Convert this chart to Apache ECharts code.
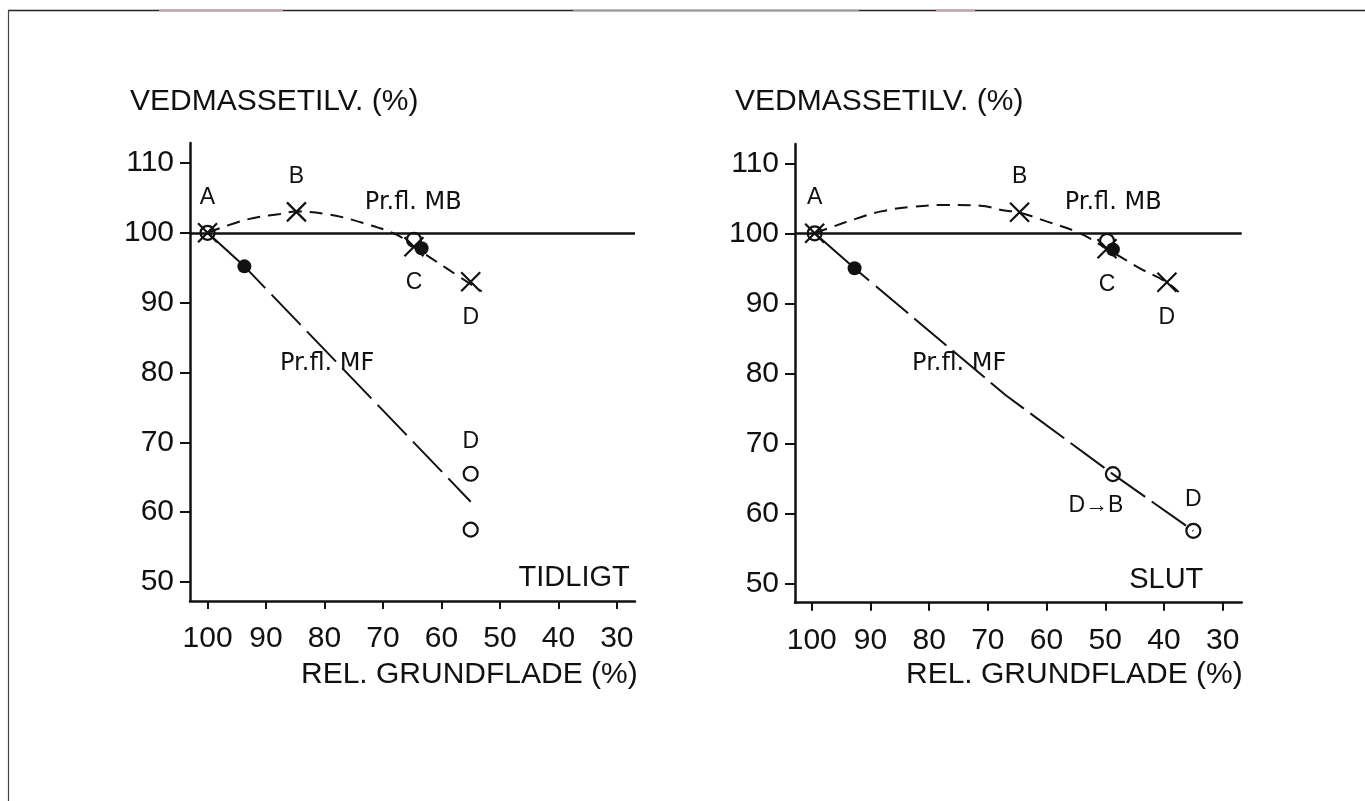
<!DOCTYPE html>
<html>
<head>
<meta charset="utf-8">
<script src="https://cdn.jsdelivr.net/npm/echarts@6/dist/echarts.min.js"></script>
<style>
html,body{margin:0;padding:0;background:#fff;}
#chart{width:1365px;height:801px;}
</style>
</head>
<body>
<div id="chart"></div>
<script>
// ---- data ----
const xTicks = [100, 90, 80, 70, 60, 50, 40, 30];
const yTicks = [50, 60, 70, 80, 90, 100, 110];
const refValue = 100;

// TIDLIGT (left panel)
const crossL = [[100, 100], [84.8, 103], [64.7, 98], [55, 93]];
const crossNamesL = ['A', 'B', 'C', 'D'];
const openL = [[100, 100], [64.7, 99], [55, 65.5], [55, 57.5]];
const openNamesL = ['', '', 'D', ''];
const dotL = [[93.7, 95.2], [63.4, 97.8]];
const mbCurveL = [[100, 100], [93.3, 101.9], [87.6, 102.7], [84.8, 103.05], [79.1, 102.6], [73.4, 101.4], [67.6, 99.7], [64.7, 98], [59.1, 94.9], [53.1, 91.6]];
const mfLineL = [[100, 100], [93.7, 95.2], [55, 61.5]];

// SLUT (right panel)
const crossR = [[99.5, 100], [64.6, 103], [49.7, 97.8], [39.5, 93]];
const crossNamesR = ['A', 'B', 'C', 'D'];
const openR = [[99.5, 100], [49.7, 98.9], [48.7, 65.6], [35, 57.5]];
const openNamesR = ['', '', 'D\u2192B', 'D'];
const dotR = [[92.7, 95], [48.7, 97.7]];
const mbCurveR = [[99.5, 100], [96.9, 100.8], [92.4, 102.1], [88.4, 103.1], [82.7, 103.8], [77, 104.05], [71.3, 103.95], [67.4, 103.3], [64.6, 102.95], [60, 101.7], [54.3, 100], [49.7, 97.8], [44.1, 95], [39.5, 93], [37.5, 91.6]];
const mfLineR = [[99.5, 100], [92.7, 95], [67, 76.9], [48.7, 65.6], [35, 57.5]];

const panelTexts = ['TIDLIGT', 'SLUT'];
const yName = 'VEDMASSETILV. (%)';
const xName = 'REL. GRUNDFLADE (%)';
const mbName = 'Pr.fl. MB';
const mfName = 'Pr.fl. MF';

// ---- styling / building ----
const INK = '#111';
const FONT = "'Liberation Sans', Arial, sans-serif";
const FONT2 = "'DejaVu Sans', sans-serif";
const crossPath = 'path://M0,0 L10,10 M10,0 L0,10';

function labelFor(name) {
  if (!name) return { show: false };
  const base = { show: true, formatter: name, color: INK, fontFamily: FONT, fontSize: 23 };
  if (name === 'A' || name === 'B') return Object.assign(base, { position: 'top', distance: 12 });
  return Object.assign(base, { position: 'bottom', distance: 12 });
}
function labelForOpen(name) {
  if (!name) return { show: false };
  const base = { show: true, formatter: name, color: INK, fontFamily: FONT, fontSize: 23 };
  if (name === 'D') return Object.assign(base, { position: 'top', distance: 12 });
  return Object.assign(base, { position: 'bottom', distance: 12, offset: [-17, 0] });
}

function xAxisDef(gi, min, max) {
  return {
    gridIndex: gi, type: 'value', inverse: true, min: min, max: max,
    axisLine: { onZero: false, lineStyle: { color: INK, width: 2.5 } },
    axisTick: { show: true, customValues: xTicks, length: 8, lineStyle: { color: INK, width: 2 } },
    axisLabel: { customValues: xTicks, margin: 23, fontSize: 30, color: INK, fontFamily: FONT },
    splitLine: { show: false }
  };
}
function yAxisDef(gi, min, max) {
  return {
    gridIndex: gi, type: 'value', min: min, max: max,
    axisLine: { onZero: false, lineStyle: { color: INK, width: 2.5 } },
    axisTick: { show: true, customValues: yTicks, length: 10, lineStyle: { color: INK, width: 2 } },
    axisLabel: { customValues: yTicks, margin: 16, fontSize: 30, color: INK, fontFamily: FONT },
    splitLine: { show: false }
  };
}

function panelSeries(gi, mb, mf, cross, crossNames, open, openNames, dots, mfDash, annots) {
  return [
    {
      type: 'line', xAxisIndex: gi, yAxisIndex: gi, data: mb, smooth: 0.4, showSymbol: false, z: 2,
      lineStyle: { color: INK, width: 2, type: [13, 8] },
      markLine: {
        silent: true, symbol: 'none', label: { show: false },
        lineStyle: { color: INK, width: 2.5, type: 'solid' },
        data: [{ yAxis: refValue }]
      }
    },
    {
      type: 'line', xAxisIndex: gi, yAxisIndex: gi, data: mf, showSymbol: false, z: 2,
      lineStyle: { color: INK, width: 2, type: mfDash }
    },
    {
      type: 'scatter', xAxisIndex: gi, yAxisIndex: gi, symbol: 'circle', symbolSize: 14, z: 3,
      itemStyle: { color: 'rgba(0,0,0,0)', borderColor: INK, borderWidth: 2.2, opacity: 1 },
      data: open.map((p, i) => ({ value: p, label: labelForOpen(openNames[i]) }))
    },
    {
      type: 'scatter', xAxisIndex: gi, yAxisIndex: gi, symbol: crossPath, symbolSize: 19, z: 4,
      itemStyle: { color: 'none', borderColor: INK, borderWidth: 2.2, opacity: 1 },
      data: cross.map((p, i) => ({ value: p, label: labelFor(crossNames[i]) }))
    },
    {
      type: 'scatter', xAxisIndex: gi, yAxisIndex: gi, symbol: 'circle', symbolSize: 14, z: 5,
      itemStyle: { color: INK, opacity: 1 },
      data: dots
    },
    {
      type: 'scatter', xAxisIndex: gi, yAxisIndex: gi, symbolSize: 0, z: 6, silent: true,
      itemStyle: { opacity: 1 },
      data: annots
    }
  ];
}

function annot(text, x, y, pos, font, size) {
  return { value: [x, y], label: { show: true, formatter: text, position: pos, distance: 0, color: INK, fontFamily: font, fontSize: size } };
}

const mfDashL = [80, 9, 42, 9, 42, 9, 42, 9, 42, 9, 42, 9, 42, 9];
const mfDashR = [72, 9, 42, 8, 42, 8, 42, 8, 42, 8, 42, 8, 42, 8, 42, 8, 42, 8, 42, 8, 42, 8];

const annL = [
  annot(mbName, 73.1, 104.3, 'right', FONT2, 24),
  annot(mfName, 87.6, 81.3, 'right', FONT2, 24),
  annot(panelTexts[0], 27.8, 50.6, 'left', FONT, 29)
];
const annR = [
  annot(mbName, 56.9, 104.3, 'right', FONT2, 24),
  annot(mfName, 82.9, 81.3, 'right', FONT2, 24),
  annot(panelTexts[1], 33.3, 50.5, 'left', FONT, 29)
];

function txt(text, x, y, size) {
  return {
    type: 'text', x: x, y: y, silent: true,
    style: { text: text, fill: INK, font: size + 'px ' + FONT, align: 'left', verticalAlign: 'middle', textAlign: 'left', textVerticalAlign: 'middle' }
  };
}
function hline(x1, x2, y, color, w) {
  return { type: 'line', silent: true, shape: { x1: x1, y1: y, x2: x2, y2: y }, style: { stroke: color, lineWidth: w } };
}

const option = {
  animation: false,
  backgroundColor: '#fff',
  grid: [
    { left: 190, top: 143, width: 445, height: 458 },
    { left: 795, top: 144, width: 446.7, height: 458.7 }
  ],
  xAxis: [xAxisDef(0, 26.9, 103), xAxisDef(1, 26.76, 102.85)],
  yAxis: [yAxisDef(0, 47.28, 112.86), yAxisDef(1, 47.23, 112.76)],
  series: [].concat(
    panelSeries(0, mbCurveL, mfLineL, crossL, crossNamesL, openL, openNamesL, dotL, mfDashL, annL),
    panelSeries(1, mbCurveR, mfLineR, crossR, crossNamesR, openR, openNamesR, dotR, mfDashR, annR)
  ),
  graphic: [
    txt(yName, 130, 101.5, 30),
    txt(yName, 735, 101.5, 30),
    txt(xName, 301, 675, 30),
    txt(xName, 906, 675, 30),
    hline(8, 1365, 10.5, '#222', 1.5),
    hline(159, 283, 10.5, '#c8a4ac', 2),
    hline(573, 859, 10.5, '#9a9a9a', 1.5),
    hline(936, 975, 10.5, '#c8a4ac', 2),
    { type: 'line', silent: true, shape: { x1: 8.5, y1: 10, x2: 8.5, y2: 801 }, style: { stroke: '#444', lineWidth: 1.2 } }
  ]
};

const chart = echarts.init(document.getElementById('chart'), null, { renderer: 'canvas' });
chart.setOption(option);
</script>
</body>
</html>
